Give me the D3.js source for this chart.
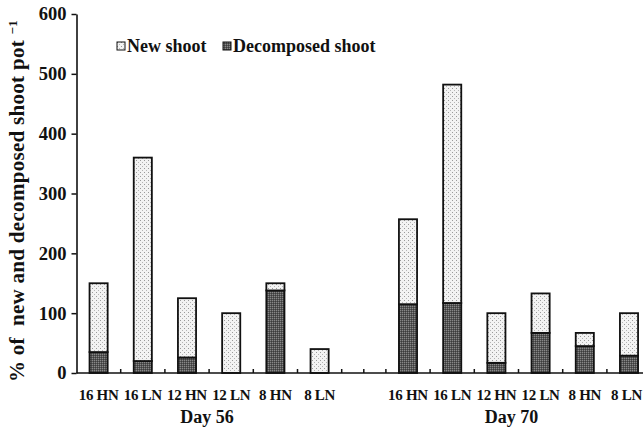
<!DOCTYPE html>
<html>
<head>
<meta charset="utf-8">
<script src="https://cdn.jsdelivr.net/npm/d3@7"></script>
<style>
  body { margin: 0; background: #fff; }
  svg text { font-family: "Liberation Serif", "Times New Roman", serif; font-weight: bold; fill: #111; }
</style>
</head>
<body>
<script>
// data
const treatments = ['16 HN', '16 LN', '12 HN', '12 LN', '8 HN', '8 LN'];
const days = ['Day 56', 'Day 70'];
const decomposedDay56 = [35, 20, 26, 0, 138, 0];
const newDay56 = [115, 340, 99, 100, 12, 40];
const decomposedDay70 = [115, 117, 17, 67, 45, 29];
const newDay70 = [142, 365, 83, 66, 22, 71];
const yTicks = [0, 100, 200, 300, 400, 500, 600];

// build rows
let rows = [];
treatments.forEach((t, i) => rows.push({ key: 'd56-' + t, label: t, day: 0, dec: decomposedDay56[i], nw: newDay56[i] }));
rows.push({ key: 'gap', label: '', day: -1, dec: 0, nw: 0 });
treatments.forEach((t, i) => rows.push({ key: 'd70-' + t, label: t, day: 1, dec: decomposedDay70[i], nw: newDay70[i] }));

const W = 643, H = 429;
const x0 = 76.5, y0 = 373, yTop = 14;

let svg = d3.select('body').append('svg').attr('width', W).attr('height', H);

// fill patterns
let defs = svg.append('defs');
let pNew = defs.append('pattern').attr('id', 'pNew').attr('patternUnits', 'userSpaceOnUse').attr('width', 4).attr('height', 4);
pNew.append('rect').attr('width', 4).attr('height', 4).attr('fill', '#f3f3f3');
pNew.append('rect').attr('x', 0).attr('y', 0).attr('width', 1).attr('height', 1).attr('fill', '#9a9a9a');
pNew.append('rect').attr('x', 2).attr('y', 2).attr('width', 1).attr('height', 1).attr('fill', '#b5b5b5');
let pDec = defs.append('pattern').attr('id', 'pDec').attr('patternUnits', 'userSpaceOnUse').attr('width', 2).attr('height', 2);
pDec.append('rect').attr('width', 2).attr('height', 2).attr('fill', '#555');
pDec.append('rect').attr('x', 0).attr('y', 0).attr('width', 1).attr('height', 1).attr('fill', '#888');
pDec.append('rect').attr('x', 1).attr('y', 1).attr('width', 1).attr('height', 1).attr('fill', '#3c3c3c');

let x = d3.scaleBand().domain(rows.map((d) => d.key)).range([x0, x0 + 13 * 44.2]).paddingInner(0).paddingOuter(0);
let y = d3.scaleLinear().domain([0, 600]).range([y0, yTop]);

let barW = x.bandwidth() * 0.41;

// bars
let g = svg.append('g');
let bars = g.selectAll('g.bar').data(rows.filter((d) => d.day >= 0)).join('g').attr('class', 'bar');
bars.filter((d) => d.dec > 0).append('rect')
  .attr('x', (d) => x(d.key) + (x.bandwidth() - barW) / 2)
  .attr('y', (d) => y(d.dec))
  .attr('width', barW)
  .attr('height', (d) => y(0) - y(d.dec))
  .attr('fill', 'url(#pDec)')
  .attr('stroke', '#111').attr('stroke-width', 1.8);
bars.filter((d) => d.nw > 0).append('rect')
  .attr('x', (d) => x(d.key) + (x.bandwidth() - barW) / 2)
  .attr('y', (d) => y(d.dec + d.nw))
  .attr('width', barW)
  .attr('height', (d) => y(d.dec) - y(d.dec + d.nw))
  .attr('fill', 'url(#pNew)')
  .attr('stroke', '#111').attr('stroke-width', 1.8);

// y axis
let yAxis = svg.append('g').attr('transform', `translate(${x0},0)`)
  .call(d3.axisLeft(y).tickValues(yTicks).tickSize(5).tickSizeOuter(0));
yAxis.select('.domain').attr('stroke', '#111').attr('stroke-width', 1.6);
yAxis.selectAll('.tick line').attr('stroke', '#111').attr('stroke-width', 1.5);
yAxis.selectAll('.tick text').attr('x', -10).style('font-size', '18.5px').style('font-family', '"Liberation Serif", serif').style('font-weight', 'bold').style('fill', '#111');

// x axis line and ticks
svg.append('line').attr('x1', x0).attr('x2', W).attr('y1', y0).attr('y2', y0).attr('stroke', '#111').attr('stroke-width', 1.6);
let tickXs = rows.map((d) => x(d.key)).concat([x.range()[1], x('gap') + x.bandwidth() / 2]);
svg.selectAll('line.xt').data(tickXs.filter((v) => v > x0 + 1)).join('line').attr('class', 'xt')
  .attr('x1', (d) => d).attr('x2', (d) => d).attr('y1', y0).attr('y2', y0 - 4)
  .attr('stroke', '#111').attr('stroke-width', 1.5);

// category labels (last one kept inside the picture)
svg.selectAll('text.cat').data(rows.filter((d) => d.day >= 0)).join('text').attr('class', 'cat')
  .attr('x', (d, i, n) => i === n.length - 1 ? W - 1 : x(d.key) + x.bandwidth() / 2)
  .attr('y', 400)
  .attr('text-anchor', (d, i, n) => i === n.length - 1 ? 'end' : 'middle')
  .style('font-size', '15px')
  .style('letter-spacing', '-0.3px')
  .text((d) => d.label);

// day labels
days.forEach((dname, i) => {
  let keys = rows.filter((d) => d.day === i).map((d) => d.key);
  let cx = (x(keys[0]) + x(keys[keys.length - 1]) + x.bandwidth()) / 2;
  svg.append('text').attr('x', i === 0 ? cx - 2 : cx - 7).attr('y', 423).attr('text-anchor', 'middle')
    .style('font-size', '18px').text(dname);
});

// y title
let yt = svg.append('text').attr('transform', 'translate(24,201) rotate(-90)').attr('text-anchor', 'middle').style('font-size', '21px').style('letter-spacing', '0.3px');
yt.append('tspan').text('% of\u00a0\u00a0new and decomposed shoot pot ');
yt.append('tspan').attr('dy', -7).style('font-size', '13px').text('\u22121');

// legend
let legend = [
  { name: 'New shoot', fill: 'url(#pNew)', x: 117 },
  { name: 'Decomposed shoot', fill: 'url(#pDec)', x: 223 }
];
let lg = svg.selectAll('g.leg').data(legend).join('g').attr('class', 'leg').attr('transform', (d) => `translate(${d.x},42)`);
lg.append('rect').attr('width', 8).attr('height', 8).attr('fill', (d) => d.fill).attr('stroke', '#111').attr('stroke-width', 1);
lg.append('text').attr('x', 10).attr('y', 10).style('font-size', '18px').text((d) => d.name);
</script>
</body>
</html>
